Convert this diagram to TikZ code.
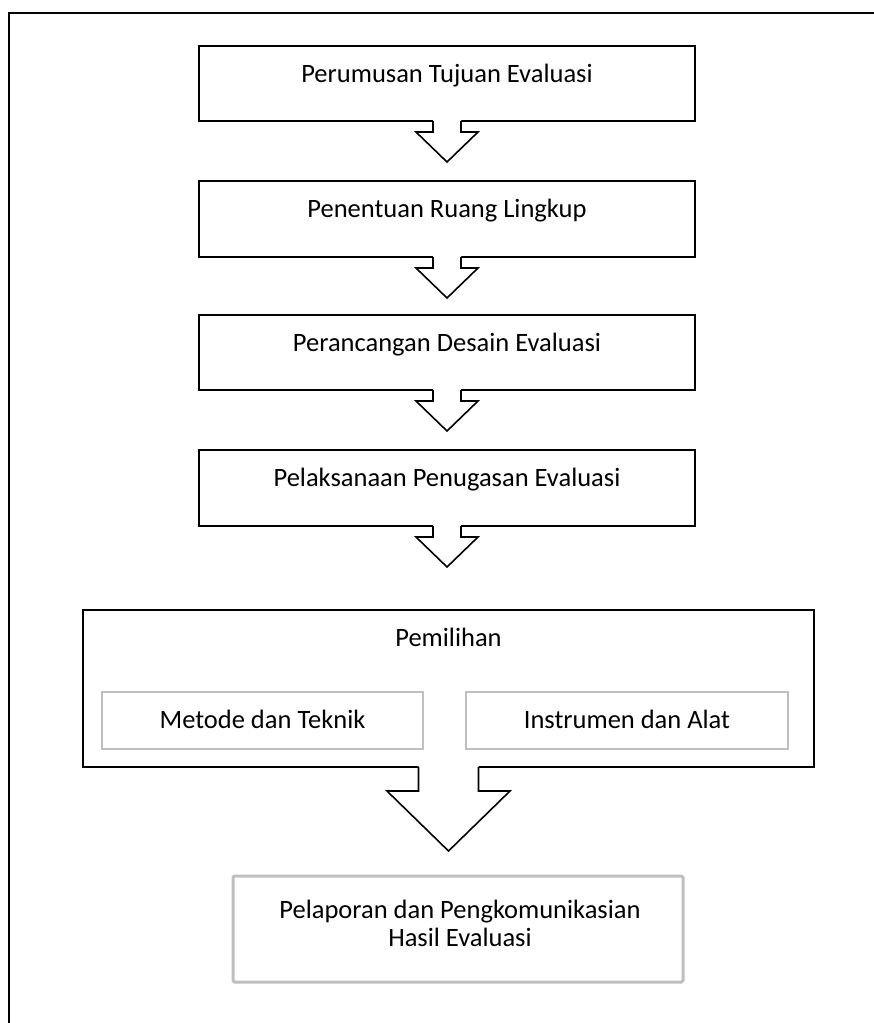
\documentclass[tikz,border=0pt]{standalone}
\usepackage{fontspec}
\setmainfont{Carlito}
\usetikzlibrary{calc}
\definecolor{subgray}{RGB}{191,191,191}
\newcommand{\blockarrow}[5]{%
  \fill[white] ($(#1.south)+(-#2,-1.3)$) -- ($(#1.south)+(-#2,#3)$) -- ($(#1.south)+(-#4,#3)$) -- ($(#1.south)+(0,#3+#5)$) -- ($(#1.south)+(#4,#3)$) -- ($(#1.south)+(#2,#3)$) -- ($(#1.south)+(#2,-1.3)$) -- cycle;
  \draw[arrowline] ($(#1.south)+(-#2,0)$) -- ($(#1.south)+(-#2,#3)$) -- ($(#1.south)+(-#4,#3)$) -- ($(#1.south)+(0,#3+#5)$) -- ($(#1.south)+(#4,#3)$) -- ($(#1.south)+(#2,#3)$) -- ($(#1.south)+(#2,0)$);
}
\begin{document}
\begin{tikzpicture}[x=1pt,y=-1pt,
  frameline/.style={line width=1.3pt},
  mainbox/.style={draw=black,line width=2pt,rectangle,outer sep=0pt,inner sep=0pt},
  subbox/.style={draw=subgray,line width=1.3pt,rectangle,outer sep=0pt,inner sep=0pt},
  finalbox/.style={draw=subgray,line width=3pt,rectangle,rounded corners=1.5pt,outer sep=0pt,inner sep=0pt},
  lbl/.style={anchor=base,inner sep=0pt,outer sep=0pt,font=\fontsize{26.5}{30}\selectfont},
  arrowline/.style={draw=black,line width=1.6pt,line join=miter},
]
\useasboundingbox (0,0) rectangle (874,1023);
% frame
\draw[frameline] (9,1023) -- (9,13) -- (874,13);
% main boxes
\node[mainbox,minimum width=496pt,minimum height=75pt] (b1) at (447,83.5) {};
\node[mainbox,minimum width=496pt,minimum height=76pt] (b2) at (447,219) {};
\node[mainbox,minimum width=496pt,minimum height=75pt] (b3) at (447,352.5) {};
\node[mainbox,minimum width=496pt,minimum height=76pt] (b4) at (447,488) {};
\node[mainbox,minimum width=731pt,minimum height=157pt] (pem) at (448.5,688.5) {};
\node[subbox,minimum width=321pt,minimum height=57pt] (met) at (262.5,720.5) {};
\node[subbox,minimum width=322pt,minimum height=57pt] (ins) at (627,720.5) {};
\node[finalbox,minimum width=450pt,minimum height=106pt] (fin) at (458,929) {};
% texts
\node[lbl] (t1) at ($(b1.north)+(0,36)$) {Perumusan Tujuan Evaluasi};
\node[lbl] (t2) at ($(b2.north)+(0,36)$) {Penentuan Ruang Lingkup};
\node[lbl] (t3) at ($(b3.north)+(0,36)$) {Perancangan Desain Evaluasi};
\node[lbl] (t4) at ($(b4.north)+(0,36)$) {Pelaksanaan Penugasan Evaluasi};
\node[lbl] (t5) at ($(pem.north)+(0,36)$) {Pemilihan};
\node[lbl] (t6) at ($(met.center)+(0,8)$) {Metode dan Teknik};
\node[lbl] (t7) at ($(ins.center)+(0,8)$) {Instrumen dan Alat};
\node[lbl] (t8) at ($(fin.north)+(2,42)$) {Pelaporan dan Pengkomunikasian};
\node[lbl] (t9) at ($(fin.north)+(2,70)$) {Hasil Evaluasi};
% block arrows
\blockarrow{b1}{14}{11}{31}{30}
\blockarrow{b2}{14}{11}{31}{30}
\blockarrow{b3}{14}{11}{31}{30}
\blockarrow{b4}{14}{11}{31}{30}
\blockarrow{pem}{30}{24}{61.5}{60}
\end{tikzpicture}
\end{document}
